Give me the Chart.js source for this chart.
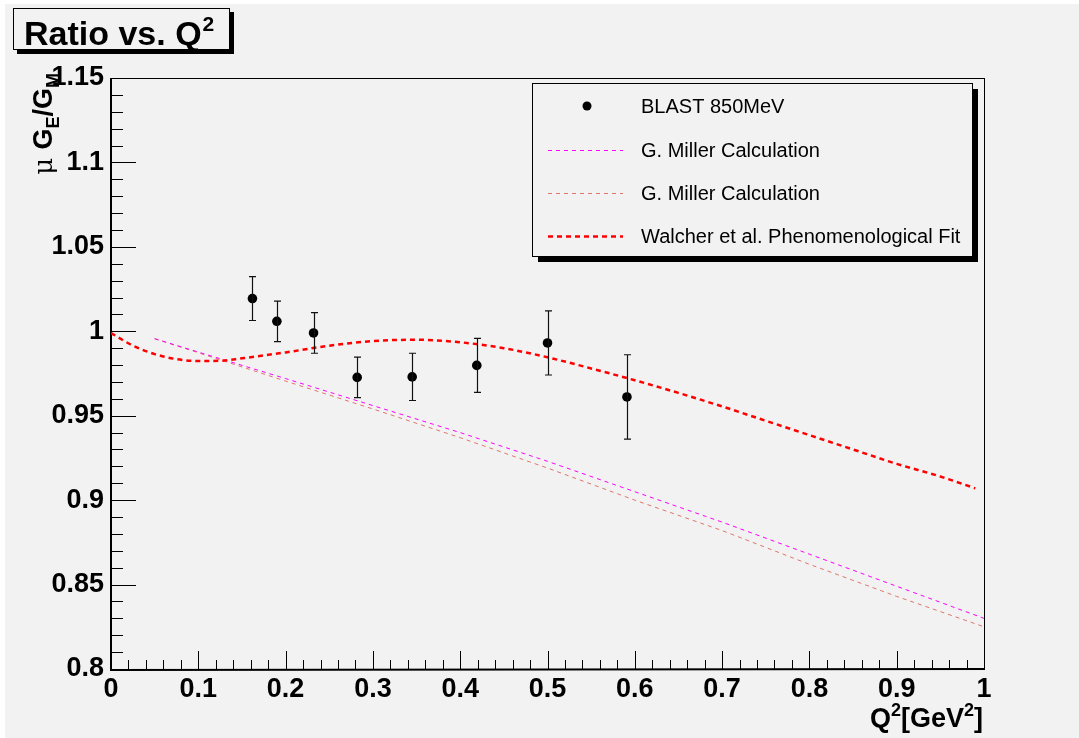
<!DOCTYPE html>
<html>
<head>
<meta charset="utf-8">
<script src="https://cdn.jsdelivr.net/npm/chart.js@4"></script>
<style>
  html, body { margin: 0; padding: 0; background: #ffffff; }
  canvas { display: block; }
</style>
</head>
<body>
<canvas id="chart" width="1079" height="738"></canvas>
<script>
// BLAST 850MeV data points
const qBlast = [0.162, 0.190, 0.232, 0.282, 0.345, 0.419, 0.500, 0.591];
const ratioBlast = [1.0194, 1.0059, 0.9990, 0.9727, 0.9730, 0.9798, 0.9931, 0.9611];
const errBlast = [0.013, 0.012, 0.012, 0.012, 0.014, 0.016, 0.019, 0.025];

// G. Miller calculations (two curves)
const qMiller = [0.05, 0.1, 0.2, 0.3, 0.4, 0.5, 0.6, 0.7, 0.8, 0.9, 1.0];
const millerA = [0.9956, 0.9877, 0.9720, 0.9560, 0.9400, 0.9230, 0.9050, 0.8870, 0.8680, 0.8490, 0.8300];
const millerB = [0.9956, 0.9873, 0.9705, 0.9540, 0.9370, 0.9190, 0.9000, 0.8820, 0.8620, 0.8430, 0.8250];

// Walcher et al. phenomenological fit
const qFit = [0, 0.025, 0.05, 0.075, 0.1, 0.125, 0.15, 0.2, 0.25, 0.3, 0.35, 0.4, 0.45, 0.5,
              0.55, 0.6, 0.65, 0.7, 0.75, 0.8, 0.85, 0.9, 0.95, 0.99];
const ratioFit = [0.999, 0.9915, 0.9865, 0.9835, 0.9824, 0.9825, 0.984, 0.9875, 0.9915, 0.9942,
                  0.995, 0.9935, 0.990, 0.9846, 0.978, 0.971, 0.9635, 0.9555, 0.947, 0.9385,
                  0.930, 0.9215, 0.914, 0.907];

const labels = ["BLAST 850MeV", "G. Miller Calculation", "G. Miller Calculation",
                "Walcher et al. Phenomenological Fit"];

const xMin = 0, xMax = 1, xStep = 0.1, xMinor = 0.02;
const yMin = 0.8, yMax = 1.15, yStep = 0.05, yMinor = 0.01;

const BG = "#f2f2f2";
const FONT = "'Liberation Sans', Arial, Helvetica, sans-serif";

const pts = (xs, ys) => xs.map((x, i) => ({ x: x, y: ys[i] }));

// background, frame, ticks inside the frame
const rootFrame = {
  id: "rootFrame",
  beforeDraw(chart) {
    const ctx = chart.ctx;
    ctx.save();
    ctx.fillStyle = "#ffffff";
    ctx.fillRect(0, 0, chart.width, chart.height);
    ctx.fillStyle = BG;
    ctx.fillRect(5, 4, chart.width - 5, chart.height - 4);
    ctx.restore();
  },
  beforeDatasetsDraw(chart) {
    const ctx = chart.ctx;
    const a = chart.chartArea;
    const xs = chart.scales.x, ys = chart.scales.y;
    ctx.save();
    ctx.strokeStyle = "#000";
    ctx.lineWidth = 1;
    ctx.strokeRect(a.left + 0.5, a.top + 0.5, a.right - a.left, a.bottom - a.top);

    // y ticks
    const ny = Math.round((yMax - yMin) / yMinor);
    for (let i = 0; i <= ny; i++) {
      const v = yMin + i * yMinor;
      const py = Math.round(ys.getPixelForValue(v)) + 0.5;
      const major = i % Math.round(yStep / yMinor) === 0;
      ctx.beginPath();
      ctx.moveTo(a.left, py);
      ctx.lineTo(a.left + (major ? 25 : 12), py);
      ctx.stroke();
    }
    // x ticks
    const nx = Math.round((xMax - xMin) / xMinor);
    for (let i = 0; i <= nx; i++) {
      const v = xMin + i * xMinor;
      const px = Math.round(xs.getPixelForValue(v)) + 0.5;
      const major = i % Math.round(xStep / xMinor) === 0;
      ctx.beginPath();
      ctx.moveTo(px, a.bottom);
      ctx.lineTo(px, a.bottom - (major ? 18 : 9));
      ctx.stroke();
    }
    // axes
    ctx.lineWidth = 2;
    ctx.beginPath();
    ctx.moveTo(a.left, a.top);
    ctx.lineTo(a.left, a.bottom + 1);
    ctx.lineTo(a.right + 1, a.bottom);
    ctx.stroke();
    ctx.restore();
  },
  afterDatasetsDraw(chart) {
    // error bars
    const ctx = chart.ctx;
    const xs = chart.scales.x, ys = chart.scales.y;
    ctx.save();
    ctx.strokeStyle = "#111";
    ctx.lineWidth = 1.2;
    qBlast.forEach((q, i) => {
      const px = Math.round(xs.getPixelForValue(q)) + 0.5;
      const top = ys.getPixelForValue(ratioBlast[i] + errBlast[i]);
      const bot = ys.getPixelForValue(ratioBlast[i] - errBlast[i]);
      ctx.beginPath();
      ctx.moveTo(px, top); ctx.lineTo(px, bot);
      ctx.moveTo(px - 3.5, top); ctx.lineTo(px + 3.5, top);
      ctx.moveTo(px - 3.5, bot); ctx.lineTo(px + 3.5, bot);
      ctx.stroke();
    });
    ctx.restore();
  },
  afterDraw(chart) {
    const ctx = chart.ctx;
    ctx.save();

    // title box
    ctx.fillStyle = "#000";
    ctx.fillRect(17, 12, 217, 42);
    ctx.fillStyle = BG;
    ctx.fillRect(13, 8, 217, 42);
    ctx.strokeStyle = "#000";
    ctx.lineWidth = 1;
    ctx.strokeRect(13.5, 8.5, 216, 41);
    ctx.fillStyle = "#000";
    ctx.textBaseline = "alphabetic";
    ctx.textAlign = "left";
    ctx.font = "bold 34px " + FONT;
    ctx.fillText("Ratio vs. Q", 24, 45);
    const tw = ctx.measureText("Ratio vs. Q").width;
    ctx.font = "bold 21px " + FONT;
    ctx.fillText("2", 24 + tw + 1, 31);

    // legend box
    const lx = 532, ly = 83, lw = 440, lh = 173;
    ctx.fillStyle = "#000";
    ctx.fillRect(lx + 6, ly + 6, lw, lh);
    ctx.fillStyle = BG;
    ctx.fillRect(lx, ly, lw, lh);
    ctx.strokeStyle = "#000";
    ctx.lineWidth = 1;
    ctx.strokeRect(lx + 0.5, ly + 0.5, lw, lh);
    const rows = [106, 150, 193, 236];
    const ds = chart.data.datasets;
    ctx.font = "20px " + FONT;
    ctx.textBaseline = "middle";
    ds.forEach((d, i) => {
      const ry = rows[i];
      if (i === 0) {
        ctx.fillStyle = "#000";
        ctx.beginPath();
        ctx.arc(587, ry, 4.5, 0, Math.PI * 2);
        ctx.fill();
      } else {
        ctx.strokeStyle = d.borderColor;
        ctx.lineWidth = d.borderWidth;
        ctx.setLineDash(d.borderDash);
        ctx.beginPath();
        ctx.moveTo(548, ry + 0.5);
        ctx.lineTo(623, ry + 0.5);
        ctx.stroke();
        ctx.setLineDash([]);
      }
      ctx.fillStyle = "#000";
      ctx.fillText(d.label, 641, ry + 1);
    });

    // y axis title: mu G_E/G_M
    ctx.translate(52, 73);
    ctx.rotate(-Math.PI / 2);
    ctx.textBaseline = "alphabetic";
    const parts = [
      { t: "\u03bc ", f: "26px 'DejaVu Serif', serif", dy: 0 },
      { t: "G", f: "bold 27px " + FONT, dy: 0 },
      { t: "E", f: "bold 18px " + FONT, dy: 7 },
      { t: "/G", f: "bold 27px " + FONT, dy: 0 },
      { t: "M", f: "bold 18px " + FONT, dy: 7 }
    ];
    let total = 0;
    parts.forEach(p => { ctx.font = p.f; p.w = ctx.measureText(p.t).width; total += p.w; });
    let cx = -total;
    parts.forEach(p => {
      ctx.font = p.f;
      ctx.fillText(p.t, cx, p.dy);
      cx += p.w;
    });
    ctx.restore();

    // x axis title: Q^2[GeV^2]
    ctx.save();
    ctx.fillStyle = "#000";
    ctx.textBaseline = "alphabetic";
    const xparts = [
      { t: "Q", f: "bold 27px " + FONT, dy: 0 },
      { t: "2", f: "bold 18px " + FONT, dy: -11 },
      { t: "[GeV", f: "bold 27px " + FONT, dy: 0 },
      { t: "2", f: "bold 18px " + FONT, dy: -11 },
      { t: "]", f: "bold 27px " + FONT, dy: 0 }
    ];
    let xt = 0;
    xparts.forEach(p => { ctx.font = p.f; p.w = ctx.measureText(p.t).width; xt += p.w; });
    let sx = 983 - xt;
    xparts.forEach(p => {
      ctx.font = p.f;
      ctx.fillText(p.t, sx, 727 + p.dy);
      sx += p.w;
    });
    ctx.restore();
  }
};

new Chart(document.getElementById("chart"), {
  type: "scatter",
  data: {
    datasets: [
      {
        label: labels[0],
        data: pts(qBlast, ratioBlast),
        showLine: false,
        pointRadius: 4.8,
        pointBackgroundColor: "#000",
        pointBorderColor: "#000",
        borderColor: "#000",
        borderWidth: 0,
        borderDash: [],
        order: 0
      },
      {
        label: labels[1],
        data: pts(qMiller, millerA),
        showLine: true,
        pointRadius: 0,
        borderColor: "#ff00ff",
        borderWidth: 1,
        borderDash: [4, 4],
        order: 2
      },
      {
        label: labels[2],
        data: pts(qMiller, millerB),
        showLine: true,
        pointRadius: 0,
        borderColor: "#e0756a",
        borderWidth: 1,
        borderDash: [4, 4],
        order: 3
      },
      {
        label: labels[3],
        data: pts(qFit, ratioFit),
        showLine: true,
        pointRadius: 0,
        borderColor: "#ff0000",
        borderWidth: 2.5,
        borderDash: [5, 4],
        cubicInterpolationMode: "monotone",
        order: 1
      }
    ]
  },
  options: {
    responsive: false,
    animation: false,
    devicePixelRatio: 1,
    layout: { padding: { left: 0, top: 78, right: 95, bottom: 0 } },
    plugins: {
      legend: { display: false },
      tooltip: { enabled: false }
    },
    scales: {
      x: {
        type: "linear",
        min: xMin,
        max: xMax,
        grid: { display: false, drawTicks: false },
        border: { display: false },
        ticks: {
          stepSize: xStep,
          autoSkip: false,
          maxRotation: 0,
          padding: 4,
          color: "#000",
          font: { family: FONT, size: 27, weight: "bold" },
          callback: v => String(+v.toFixed(2))
        },
        afterFit: s => { s.height = 69; }
      },
      y: {
        type: "linear",
        min: yMin,
        max: yMax,
        grid: { display: false, drawTicks: false },
        border: { display: false },
        ticks: {
          stepSize: yStep,
          autoSkip: false,
          padding: 7,
          color: "#000",
          font: { family: FONT, size: 27, weight: "bold" },
          callback: v => String(+v.toFixed(2))
        },
        afterFit: s => { s.width = 111; }
      }
    }
  },
  plugins: [rootFrame]
});
</script>
</body>
</html>
